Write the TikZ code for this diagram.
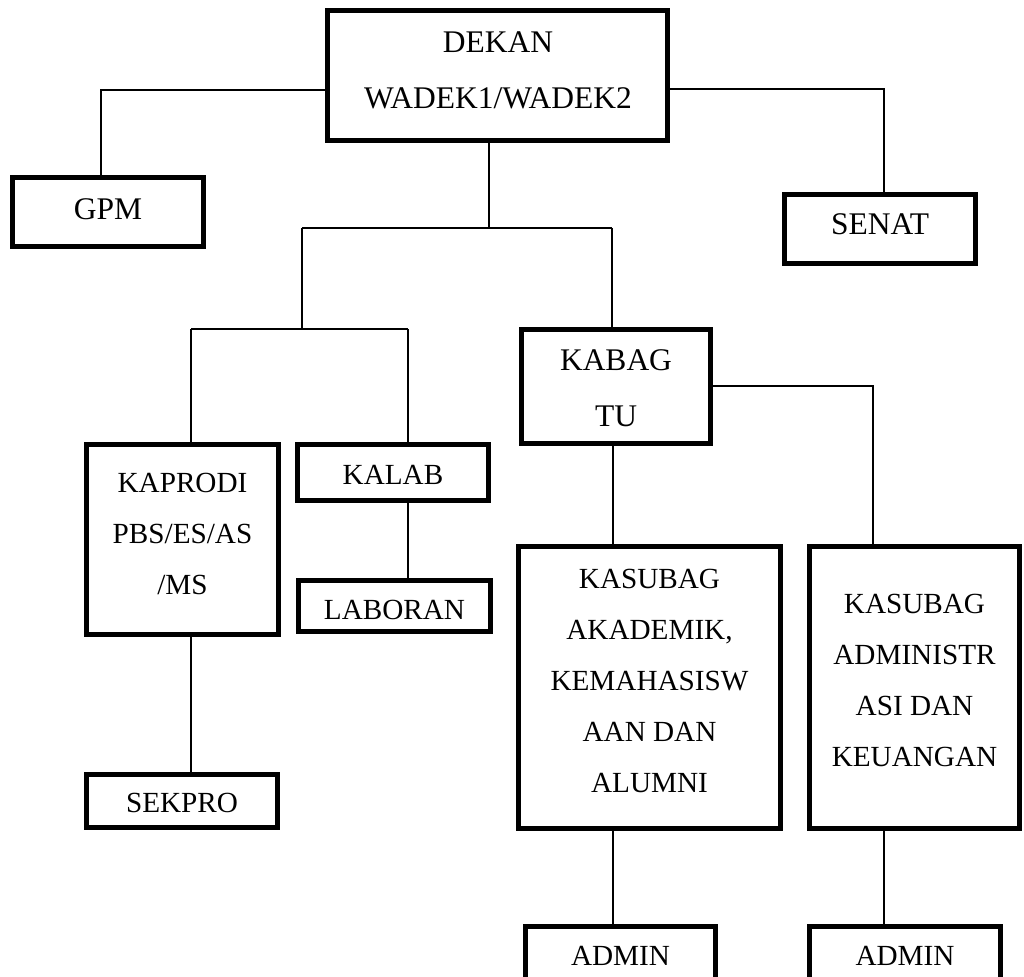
\documentclass[tikz,border=0pt]{standalone}
\usepackage{fontspec}
\setmainfont{Liberation Serif}
\begin{document}
\begin{tikzpicture}[x=1pt,y=-1pt,
  orgbox/.style={draw=black, line width=5pt, rectangle, inner sep=0pt},
  txtbig/.style={inner sep=0pt, align=center, font=\fontsize{31.5}{56}\selectfont},
  txtsmall/.style={inner sep=0pt, align=center, font=\fontsize{29.2}{51}\selectfont},
  conn/.style={draw=black, line width=2pt}]
\fill[white] (0,0) rectangle (1024,976);
\useasboundingbox (0,0) rectangle (1024,976);

% junction coordinates
\coordinate (jgpm) at (101,90);
\coordinate (jsen) at (884,89);
\coordinate (jt) at (489,228);
\coordinate (jl) at (302,228);
\coordinate (jr) at (612,228);
\coordinate (j2) at (302,329);
\coordinate (j2l) at (191,329);
\coordinate (j2r) at (408,329);
\coordinate (jtu) at (873,386);
\coordinate (jak) at (613,0);
\coordinate (jad) at (884,0);

% boxes
\node[orgbox, minimum width=340pt, minimum height=130pt] (dekan) at (497.5,75.5) {};
\node[orgbox, minimum width=191pt, minimum height=69pt] (gpm) at (108,212) {};
\node[orgbox, minimum width=191pt, minimum height=69pt] (senat) at (880,229) {};
\node[orgbox, minimum width=189pt, minimum height=114pt] (kabag) at (616,386.5) {};
\node[orgbox, minimum width=192pt, minimum height=190pt] (kaprodi) at (182.5,539.5) {};
\node[orgbox, minimum width=191pt, minimum height=56pt] (kalab) at (393,472.5) {};
\node[orgbox, minimum width=192pt, minimum height=51pt] (laboran) at (394.5,606) {};
\node[orgbox, minimum width=191pt, minimum height=53pt] (sekpro) at (182,801) {};
\node[orgbox, minimum width=262pt, minimum height=282pt] (akademik) at (649.5,687.5) {};
\node[orgbox, minimum width=210pt, minimum height=282pt] (administr) at (914.5,687.5) {};
\node[orgbox, minimum width=190pt, minimum height=60pt] (admin1) at (620.5,956.5) {};
\node[orgbox, minimum width=191pt, minimum height=60pt] (admin2) at (905,956.5) {};

% texts
\node[txtbig] (dekanT) at (498,70.5) {DEKAN\\WADEK1/WADEK2};
\node[txtbig] (gpmT) at (108,209) {GPM};
\node[txtbig] (senatT) at (880,224.5) {SENAT};
\node[txtbig] (kabagT) at (616,388) {KABAG\\TU};
\node[txtsmall] (kaprodiT) at (182.5,533.5) {KAPRODI\\PBS/ES/AS\\/MS};
\node[txtsmall] (kalabT) at (393,475) {KALAB};
\node[txtsmall] (laboranT) at (394.5,609.5) {LABORAN};
\node[txtsmall] (sekproT) at (182,802.5) {SEKPRO};
\node[txtsmall] (akademikT) at (649.5,680.5) {KASUBAG\\AKADEMIK,\\KEMAHASISW\\AAN DAN\\ALUMNI};
\node[txtsmall] (administrT) at (914.5,680.5) {KASUBAG\\ADMINISTR\\ASI DAN\\KEUANGAN};
\node[txtsmall] (admin1T) at (620.5,956) {ADMIN};
\node[txtsmall] (admin2T) at (905,956) {ADMIN};

% connectors
\draw[conn] (dekan.west |- jgpm) -- (jgpm) -- (gpm.north -| jgpm);
\draw[conn] (dekan.east |- jsen) -- (jsen) -- (senat.north -| jsen);
\draw[conn] (dekan.south -| jt) -- (jt);
\draw[conn] (jl) -- (jr);
\draw[conn] (jl) -- (j2);
\draw[conn] (jr) -- (kabag.north -| jr);
\draw[conn] (j2l) -- (j2r);
\draw[conn] (j2l) -- (kaprodi.north -| j2l);
\draw[conn] (j2r) -- (kalab.north -| j2r);
\draw[conn] (kalab.south -| j2r) -- (laboran.north -| j2r);
\draw[conn] (kaprodi.south -| j2l) -- (sekpro.north -| j2l);
\draw[conn] (kabag.east |- jtu) -- (jtu) -- (administr.north -| jtu);
\draw[conn] (kabag.south -| jak) -- (akademik.north -| jak);
\draw[conn] (akademik.south -| jak) -- (admin1.north -| jak);
\draw[conn] (administr.south -| jad) -- (admin2.north -| jad);
\end{tikzpicture}
\end{document}
